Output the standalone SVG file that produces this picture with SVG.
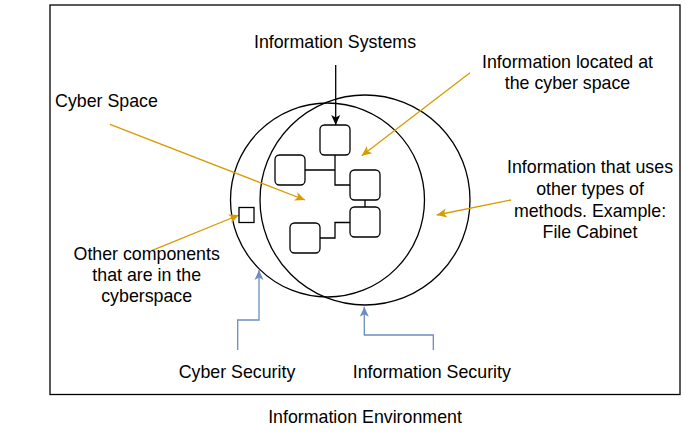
<svg xmlns="http://www.w3.org/2000/svg" width="686" height="446" viewBox="0 0 686 446">
<style>
text{font-family:"Liberation Sans",Arial,sans-serif;font-size:17.8px;fill:#000;text-anchor:middle}
.shape{fill:none;stroke:#000;stroke-width:1.3}
.box{fill:#fff;stroke:#000;stroke-width:1.3}
.link{fill:none;stroke:#000;stroke-width:1.3}
.orange{fill:none;stroke:#d79b00;stroke-width:1.3}
.blue{fill:none;stroke:#6c8ebf;stroke-width:1.3}
</style>
<defs>
<marker id="ab" markerUnits="userSpaceOnUse" markerWidth="12" markerHeight="12" viewBox="0 0 12 12" refX="11" refY="6" orient="auto"><path d="M1,1.5 L11,6 L1,10.5 L3.5,6 Z" fill="#000"/></marker>
<marker id="ao" markerUnits="userSpaceOnUse" markerWidth="12" markerHeight="12" viewBox="0 0 12 12" refX="11" refY="6" orient="auto"><path d="M1,1.5 L11,6 L1,10.5 L3.5,6 Z" fill="#d79b00"/></marker>
<marker id="abl" markerUnits="userSpaceOnUse" markerWidth="12" markerHeight="12" viewBox="0 0 12 12" refX="11" refY="6" orient="auto"><path d="M1,1.5 L11,6 L1,10.5 L3.5,6 Z" fill="#6c8ebf"/></marker>
</defs>
<g id="environment"><rect x="50" y="5" width="630" height="389.5" fill="#fff" stroke="#000" stroke-width="1.3"/><text x="365" y="423">Information Environment</text></g>
<g id="cyber-space-circle"><circle cx="327.5" cy="200" r="97" class="shape"/></g>
<g id="information-circle"><circle cx="365" cy="200" r="105" class="shape"/></g>
<g id="connectors">
<path class="link" d="M305,170 H335 M335,155 V185 H350 M365,200 V207 M320,238 H335 V222.5 H350"/>
<path class="link" d="M335.7,65 V125" marker-end="url(#ab)"/>
<path class="orange" d="M110,124.3 L305,200" marker-end="url(#ao)"/>
<path class="orange" d="M470,72.7 L361.7,155.7" marker-end="url(#ao)"/>
<path class="orange" d="M511,200 L436.7,215" marker-end="url(#ao)"/>
<path class="orange" d="M151.7,250.7 L239,215" marker-end="url(#ao)"/>
<path class="blue" d="M237.7,350 V320 H259 V270" marker-end="url(#abl)"/>
<path class="blue" d="M433.3,350 V335 H364.3 V306.7" marker-end="url(#abl)"/>
</g>
<g id="box-top"><rect x="320" y="125" width="30" height="30" rx="4.5" class="box"/></g>
<g id="box-left"><rect x="275" y="155" width="30" height="30" rx="4.5" class="box"/></g>
<g id="box-right1"><rect x="350" y="170" width="30" height="30" rx="4.5" class="box"/></g>
<g id="box-right2"><rect x="350" y="207" width="30" height="30" rx="4.5" class="box"/></g>
<g id="box-bottom"><rect x="290" y="223" width="30" height="30" rx="4.5" class="box"/></g>
<g id="small-component"><rect x="239" y="207.5" width="15" height="15" class="box"/></g>
<g id="label-info-systems"><text x="335" y="48.3">Information Systems</text></g>
<g id="label-cyber-space"><text x="106.5" y="107.3">Cyber Space</text></g>
<g id="label-info-located"><text x="567.5" y="67.7">Information located at</text><text x="567.5" y="89.3">the cyber space</text></g>
<g id="label-other-methods"><text x="590" y="173.3">Information that uses</text><text x="590" y="195">other types of</text><text x="590" y="216.7">methods. Example:</text><text x="590" y="238.3">File Cabinet</text></g>
<g id="label-other-components"><text x="146.7" y="260">Other components</text><text x="146.7" y="281">that are in the</text><text x="146.7" y="301.7">cyberspace</text></g>
<g id="label-cyber-security"><text x="237" y="377.7">Cyber Security</text></g>
<g id="label-info-security"><text x="431.8" y="377.7">Information Security</text></g>
</svg>
